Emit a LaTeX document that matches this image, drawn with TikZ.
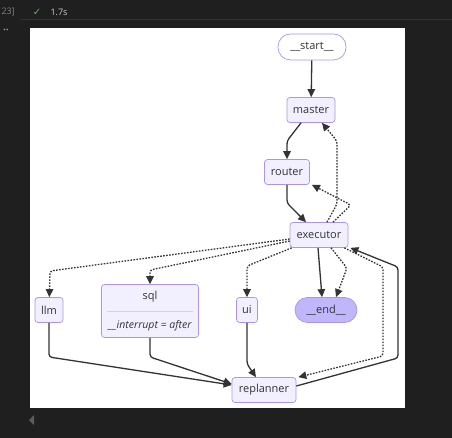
\documentclass[tikz,border=0pt]{standalone}
\usepackage{fontspec}
\setmainfont{Open Sans}
\newfontfamily\symfont{DejaVu Sans}
\usepackage{xcolor}
\usetikzlibrary{arrows.meta}
\definecolor{nodefill}{HTML}{F2F0FF}
\definecolor{nodeline}{HTML}{9370DB}
\definecolor{endfill}{HTML}{BFB6FC}
\definecolor{edgecol}{HTML}{333333}
\definecolor{uibg}{HTML}{1F1F1F}
\definecolor{uiline}{HTML}{333333}
\definecolor{uitext}{HTML}{CCCCCC}
\definecolor{uigreen}{HTML}{73A973}

\begin{document}
\begin{tikzpicture}[x=1pt, y=-1pt,
  nd/.style={draw=nodeline!75, fill=nodefill, rounded corners=3pt, line width=0.7pt,
    minimum height=25pt, inner sep=0pt, text=edgecol, font=\fontsize{11}{13}\selectfont},
  term/.style={nd, rounded corners=12.5pt},
  lnk/.style={-{Triangle[length=8pt,width=7.5pt]}, line width=1.3pt, draw=edgecol, rounded corners=3pt},
  cond/.style={lnk, dash pattern=on 1.6pt off 1.4pt},
  annot/.style={font=\fontsize{9}{10}\selectfont, text=uitext},
]
  % notebook frame
  \useasboundingbox (0,0) rectangle (452,438);
  \fill[uibg] (0,0) rectangle (452,438);
  \draw[uiline, line width=1pt] (20,20) -- (452,20);
  \fill[white] (30,28) rectangle (405,408);
  \node[annot, anchor=west, text=gray] (cellno) at (-2,12) {23]};
  \node[annot, text=uigreen, font=\fontsize{10}{11}\selectfont] (tick) at (37,12) {\symfont ✓};
  \node[annot, anchor=west] (runtime) at (47,12) {1.7s};
  \node[annot, text=gray!80!white, font=\fontsize{10}{11}\selectfont\bfseries] (more) at (6,31) {··};
  \fill[uiline!80!white] (34,415) -- (34,425) -- (29,420) -- cycle;

  % top of the graph
  \node[term, fill=white, minimum width=68pt, minimum height=26pt] (start) at (312,47) {\_\_start\_\_};
  \node[nd, minimum width=48pt] (master) at (311,110) {master};
  \node[nd, minimum width=45pt] (router) at (287,172) {router};
  \node[nd, minimum width=58pt] (executor) at (319,235) {executor};

  % tools row
  \node[nd, minimum width=28pt] (llm) at (49,310) {llm};
  \node[nd, minimum width=97pt, minimum height=53pt] (sql) at (150,311) {};
  \node[text=edgecol, font=\fontsize{11}{13}\selectfont] (sqlname) at (150,297) {sql};
  \node[text=edgecol, font=\fontsize{10.5}{12}\selectfont\itshape] (sqlnote) at (150,326) {\_\_interrupt = after};
  \draw[nodeline!35, line width=0.6pt] ([xshift=6pt]sql.west) -- ([xshift=-6pt]sql.east);
  \node[nd, minimum width=21pt] (ui) at (247,310) {ui};
  \node[term, fill=endfill, minimum width=62pt] (end) at (326,310) {\_\_end\_\_};
  \node[nd, minimum width=64pt] (replanner) at (264,390) {replanner};

  % main flow
  \draw[lnk] (start) -- (master);
  \draw[lnk] ([xshift=-10pt]master.south) -- (287,141) -- (router);
  \draw[lnk] (router) -- (287,203) -- ([xshift=-13pt]executor.north);

  % back to master and router
  \draw[cond] ([xshift=8pt]executor.north) -- (337,204) -- (337,141) -- ([xshift=11pt]master.south);
  \draw[cond] ([xshift=14pt]executor.north) -- (351,205) -- ([xshift=2pt]router.south east);

  % executor to the tools
  \draw[cond] ([yshift=-4pt]executor.west) -- (50,271) -- (llm);
  \draw[cond] ([yshift=-6pt]executor.west) -- (150,270) -- (sql);
  \draw[cond] ([xshift=2pt]executor.south west) -- (247,266) -- (ui);

  % executor to end
  \draw[lnk] ([xshift=-1pt]executor.south) -- ([xshift=-4pt]end.north);
  \draw[cond] ([xshift=12pt]executor.south) -- (347,268) -- ([xshift=10pt]end.north);

  % tools to replanner
  \draw[lnk] (llm) -- (49,357) -- ([yshift=5pt]replanner.west);
  \draw[lnk] (sql) -- (150,357) -- ([yshift=6pt]replanner.west);
  \draw[lnk] (ui) -- (247,364) -- ([xshift=-8pt]replanner.north);

  % replanner loop
  \draw[lnk] ([yshift=4pt]replanner.east) -- (398,358) -- (398,267) -- ([xshift=2pt]executor.south east);
  \draw[cond] ([xshift=-4pt]executor.south east) -- (383,267) -- (383,356) -- ([xshift=2pt]replanner.north east);
\end{tikzpicture}
\end{document}
